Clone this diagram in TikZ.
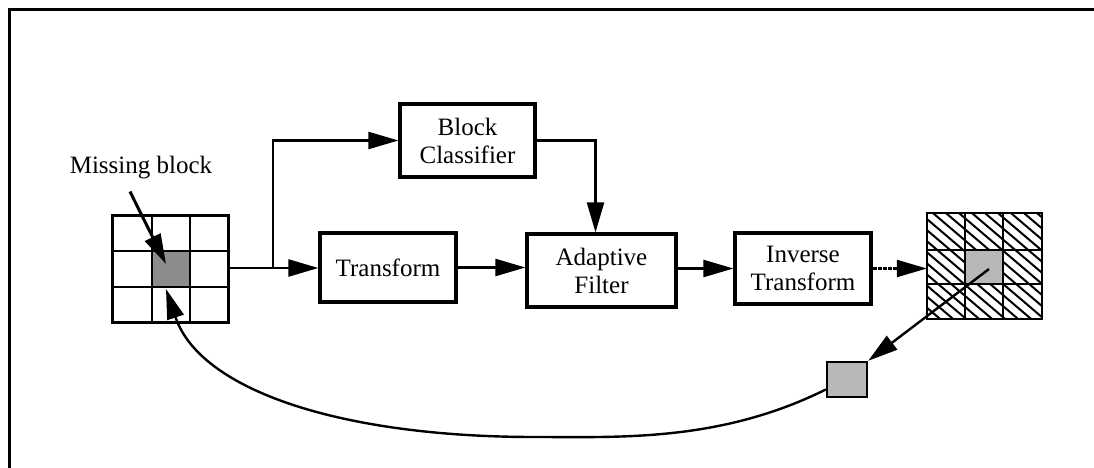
\documentclass[tikz,border=0pt]{standalone}
\usepackage{fontspec}
\setmainfont{Liberation Serif}
\usetikzlibrary{arrows.meta,calc}

\tikzset{
  blockbox/.style={draw, line width=3.2pt, inner sep=0pt, align=center,
    font=\fontsize{25}{28}\selectfont},
  conn/.style={line width=2.4pt},
  arr/.style={conn, -{Triangle[length=30pt,width=17pt]}},
  gridline/.style={line width=2.4pt},
  hatch/.style={line width=2pt},
}

\begin{document}
\begin{tikzpicture}[x=1pt, y=-1pt]
  \useasboundingbox (0,0) rectangle (1094,468);

  % frame (top and left edges)
  \draw[line width=3pt] (1094,10) -- (9,10) -- (9,468);

  % processing blocks
  \node[blockbox, minimum width=135pt, minimum height=73pt] (bc) at (467.5,140.5) {Block\\Classifier};
  \node[blockbox, minimum width=136pt, minimum height=69pt] (tr) at (388,267.5) {Transform};
  \node[blockbox, minimum width=149pt, minimum height=73pt] (af) at (601.5,270.5) {Adaptive\\Filter};
  \node[blockbox, minimum width=136pt, minimum height=71pt] (it) at (803,268.5) {Inverse\\Transform};

  % input frame: 3x3 blocks with the missing one in the middle
  \node[draw, gridline, minimum width=115pt, minimum height=106pt, inner sep=0pt] (gl) at (170.5,269) {};
  \fill[black!45] (152,251) rectangle (190,287);
  \draw[gridline] (152,216) -- (152,322) (190,216) -- (190,322)
                  (113,251) -- (228,251) (113,287) -- (228,287);
  \draw[gridline] (gl.north west) rectangle (gl.south east);
  \coordinate (mcTop) at (166,264);
  \coordinate (mcBot) at (166,289);

  % output frame: reconstructed neighbours hatched, restored block in grey
  \node[minimum width=115pt, minimum height=106pt, inner sep=0pt] (gr) at (984.5,266) {};
  \begin{scope}
    \clip (gr.north west) rectangle (gr.south east);
    \foreach \k in {0,...,20} {
      \draw[hatch] ({797+13*\k},208) -- ({797+13*\k+136},324);
    }
  \end{scope}
  \fill[white] (965,250) rectangle (1003,284);
  \fill[black!28] (965,250) rectangle (1003,284);
  \draw[gridline] (965,213) -- (965,319) (1003,213) -- (1003,319)
                  (927,250) -- (1042,250) (927,284) -- (1042,284);
  \draw[gridline] (gr.north west) rectangle (gr.south east);
  \coordinate (gcen) at (989,269);

  % extracted block
  \node[draw, line width=2.4pt, fill=black!28, minimum width=40pt, minimum height=35pt, inner sep=0pt] (sq) at (847,379.5) {};

  % label
  \node[font=\fontsize{25}{28}\selectfont, inner sep=0pt] (ml) at (141,168) {Missing block};

  % connectors
  \coordinate (jn) at (273,268);
  \draw[conn] (gl.east |- jn) -- (jn);
  \draw[arr] (jn) -- (jn -| tr.west);
  \draw[arr] (jn) |- (bc.west);
  \draw[arr] (bc.east) -| ([xshift=-6pt]af.north);
  \draw[arr] (tr.east) -- (tr.east -| af.west);
  \draw[arr] (af.east |- it.west) -- (it.west);
  \draw[arr, line width=2.2pt, dash pattern=on 4pt off 1pt] (it.east) -- (it.east -| gr.west);
  \draw[arr, line width=3pt] ([xshift=-11pt,yshift=-12pt]ml.south) -- (mcTop);
  \draw[arr] (gcen) -- (sq.north east);
  \draw[arr] ([yshift=-10pt]sq.west) .. controls (720,442) and (620,437) .. (535,437)
                 .. controls (340,437) and (200,390) .. (mcBot);
\end{tikzpicture}
\end{document}
